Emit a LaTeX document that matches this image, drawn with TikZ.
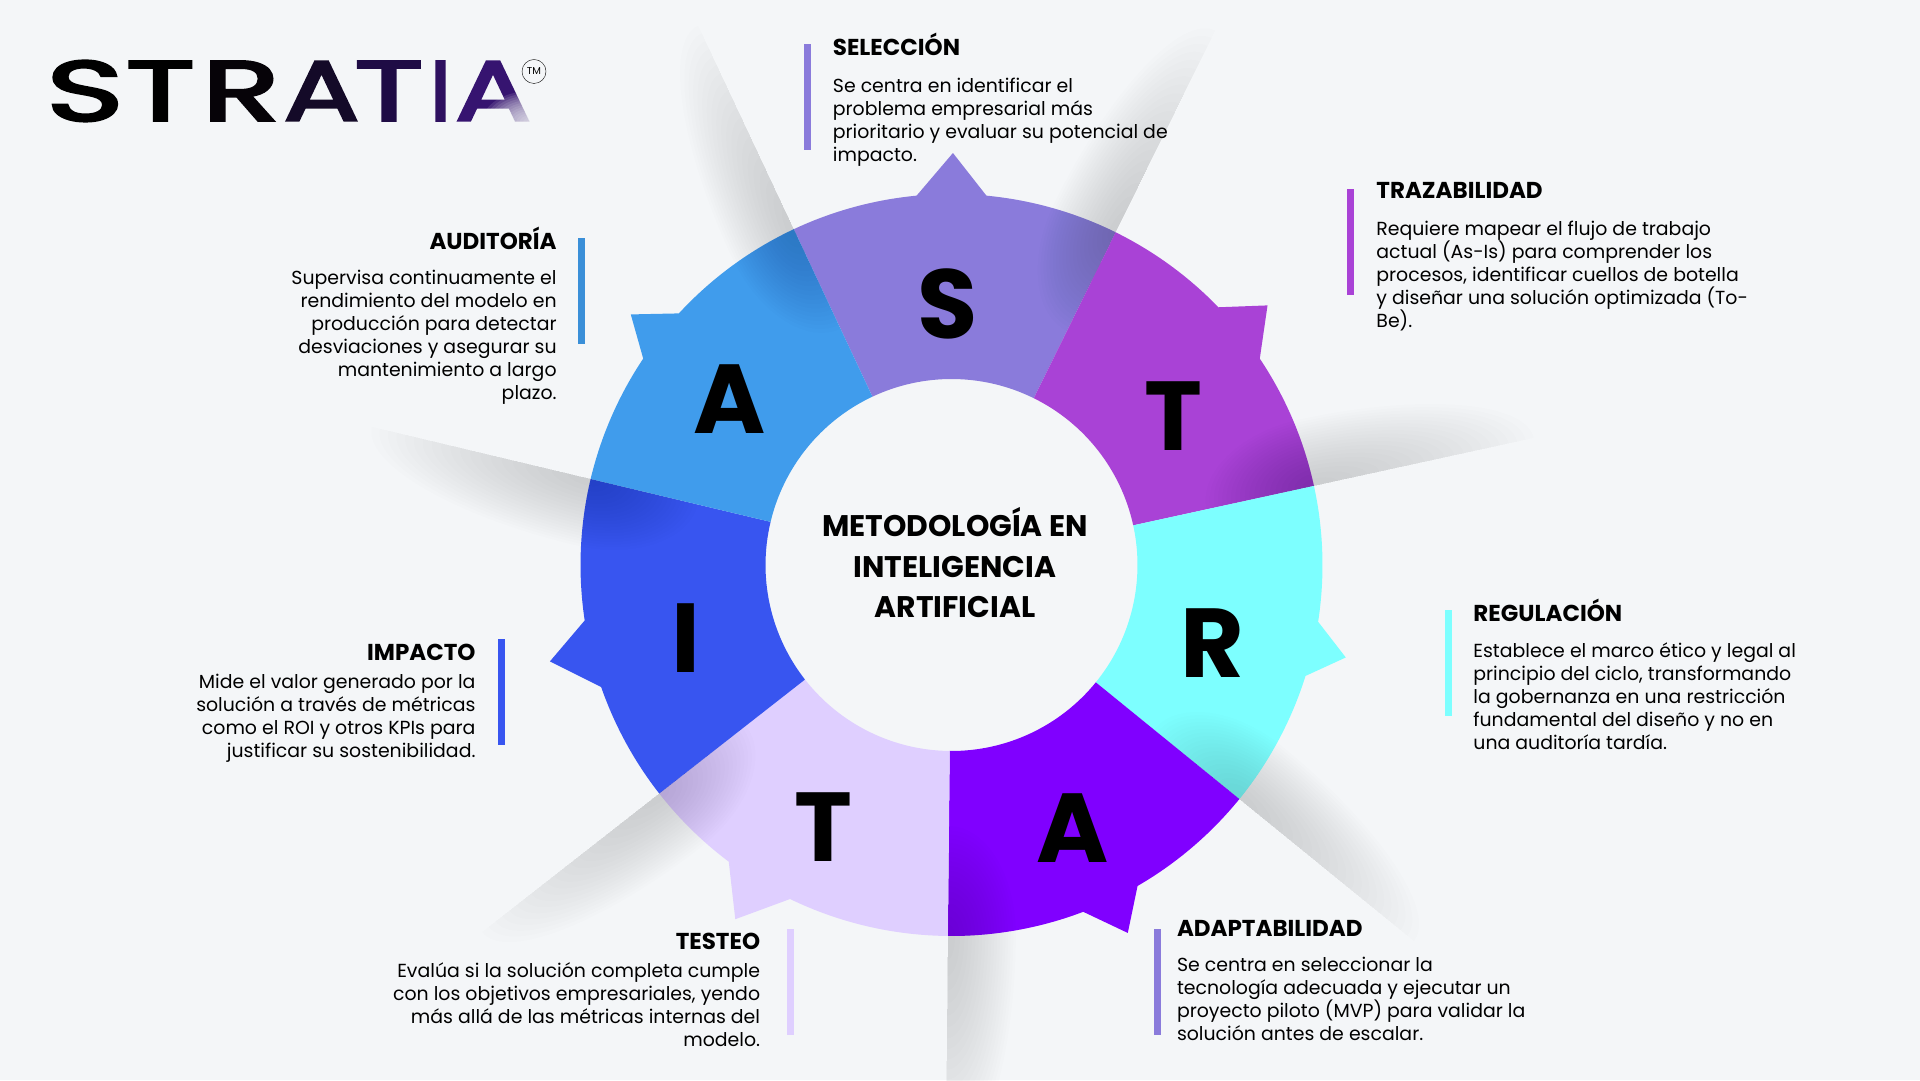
\documentclass[tikz,border=0pt]{standalone}
\usepackage{fontspec}
\setmainfont{Poppins}
\newfontfamily\logofont[FakeBold=3]{Poppins}
\usetikzlibrary{positioning}
\definecolor{pagebg}{HTML}{F4F6F8}
\definecolor{selcol}{HTML}{8A7BDB}
\definecolor{tracol}{HTML}{A942D6}
\definecolor{regcol}{HTML}{7DFFFF}
\definecolor{adacol}{HTML}{8000FF}
\definecolor{tescol}{HTML}{DFCFFF}
\definecolor{impcol}{HTML}{3855F0}
\definecolor{audcol}{HTML}{409CEC}
\definecolor{audbar}{HTML}{3A8FD8}
\definecolor{logoa}{HTML}{000000}
\definecolor{logob}{HTML}{060308}
\definecolor{logoc}{HTML}{140A28}
\definecolor{logod}{HTML}{1F0C45}
\definecolor{logoe}{HTML}{2E1060}
\definecolor{logof}{HTML}{361470}
\begin{document}
\begin{tikzpicture}[
    x=1pt, y=1pt,
    accent/.style={inner sep=0pt, minimum width=7pt, minimum height=106pt},
    head/.style={inner sep=0pt, font=\fontsize{23}{26}\selectfont\bfseries,
                 execute at begin node=\strut},
    body/.style={inner sep=0pt, font=\fontsize{18.9}{23}\selectfont,
                 execute at begin node=\strut},
    bigletter/.style={inner sep=0pt, font=\fontsize{98}{98}\selectfont\bfseries},
    logoletter/.style={inner sep=0pt, transform shape,
                       font=\fontsize{85}{85}\selectfont\logofont},
]
\clip (0,0) rectangle (1920,1080);
\fill[pagebg] (0,0) rectangle (1920,1080);
\coordinate (mid) at (951.5,515);

% ring: start, spike base, spike tip, spike base, end, tip radius
\begin{scope}[shift={(mid)}]
\foreach \col/\sa/\ba/\ta/\bb/\ea/\tr in {
    selcol/63.74/84.6/89.8/95.4/115.16/412,
    tracol/12.31/33.8/39.4/44/63.74/409,
    regcol/-39.12/-17.4/-13.2/-8.8/12.31/405,
    adacol/-90.55/-69.2/-64.4/-59.9/-39.12/408,
    tescol/218.02/233.1/238.6/244.2/269.45/415,
    impcol/166.59/188.6/193.5/199.2/218.02/413,
    audcol/115.16/137.3/142/146.2/166.59/407}
  \fill[\col] (\sa:186) -- (\sa:371) arc[start angle=\sa, end angle=\ba, radius=371]
    -- (\ta:\tr) -- (\bb:371) arc[start angle=\bb, end angle=\ea, radius=371]
    -- (\ea:186) arc[start angle=\ea, end angle=\sa, radius=186] -- cycle;

% fold shadows
\foreach \a in {63.74,12.31,-39.12,-90.55,218.02,166.59,115.16}{
  \begin{scope}[rotate=\a, shift={(371,0)}]
  \foreach \k in {1,...,20}
    \fill[black, fill opacity=.008] (0,0) -- ({(\k/20)^.75*225},0)
      arc[start angle=0, end angle=90, x radius={(\k/20)^.75*225}, y radius={(\k/20)^.75*68}]
      arc[start angle=90, end angle=180, x radius={(\k/20)^.75*110}, y radius={(\k/20)^.75*68}] -- cycle;
  \end{scope}
}
\end{scope}

\node[bigletter] (ls) at (948,776) {S};
\node[bigletter] (lt) at (1173,664) {T};
\node[bigletter] (lr) at (1212,437) {R};
\node[bigletter] (la) at (1073,252) {A};
\node[bigletter] (lte) at (823,253) {T};
\node[bigletter] (li) at (686,442) {I};
\node[bigletter] (lau) at (730,681) {A};

\node[align=center, inner sep=0pt, font=\fontsize{29.8}{40.5}\selectfont\bfseries] (title) at (955,517.4)
   {METODOLOGÍA EN\\ INTELIGENCIA\\ ARTIFICIAL};

% logo
\foreach \ltr/\cx/\sx/\col in {S/85/1.55/logoa, T/160.5/1.5/logoa, R/241/1.5/logob, A/321.5/1.32/logoc,
    T/389/1.5/logod, I/440.5/1/logoe, A/493/1.32/logof}
  \node[logoletter, xscale=\sx, text=\col] (logo\ltr\cx) at (\cx,989) {\ltr};
\foreach \k in {1,...,14}
  \fill[pagebg, fill opacity=.12] (530,958) ellipse[x radius={\k*3.4}, y radius={\k*2.2}];
\node[circle, draw=black, thin, inner sep=0pt, minimum size=24pt,
      font=\fontsize{10}{10}\selectfont] (tm) at (534,1008.5) {TM};

% seleccion
\node[accent, fill=selcol] (barsel) at (807,983) {};
\node[head, below right=-11.4pt and 22pt of barsel.north east] (headsel) {SELECCIÓN};
\node[body, align=left, below right=14.4pt and 0pt of headsel.south west] (textsel)
   {Se centra en identificar el\\ problema empresarial más\\ prioritario y evaluar su potencial de\\ impacto.};

% trazabilidad
\node[accent, fill=tracol] (bartra) at (1350.5,838) {};
\node[head, below right=-8.7pt and 22pt of bartra.north east] (headtra) {TRAZABILIDAD};
\node[body, align=left, below right=14.2pt and 0pt of headtra.south west] (texttra)
   {Requiere mapear el flujo de trabajo\\ actual (As-Is) para comprender los\\ procesos, identificar cuellos de botella\\ y diseñar una solución optimizada (To-\\ Be).};

% regulacion
\node[accent, fill=regcol] (barreg) at (1448.5,417) {};
\node[head, below right=-10.7pt and 21pt of barreg.north east] (headreg) {REGULACIÓN};
\node[body, align=left, below right=12.6pt and 0pt of headreg.south west] (textreg)
   {Establece el marco ético y legal al\\ principio del ciclo, transformando\\ la gobernanza en una restricción\\ fundamental del diseño y no en\\ una auditoría tardía.};

% adaptabilidad
\node[accent, fill=selcol] (barada) at (1157.5,98) {};
\node[head, below right=-10.6pt and 15.6pt of barada.north east] (headada) {ADAPTABILIDAD};
\node[body, align=left, below right=12.2pt and 0pt of headada.south west] (textada)
   {Se centra en seleccionar la\\ tecnología adecuada y ejecutar un\\ proyecto piloto (MVP) para validar la\\ solución antes de escalar.};

% testeo
\node[accent, fill=tescol] (bartes) at (790,98) {};
\node[head, below left=2.4pt and 26pt of bartes.north west] (headtes) {TESTEO};
\node[body, align=right, below left=5.2pt and 0pt of headtes.south east] (texttes)
   {Evalúa si la solución completa cumple\\ con los objetivos empresariales, yendo\\ más allá de las métricas internas del\\ modelo.};

% impacto
\node[accent, fill=impcol] (barimp) at (501,388) {};
\node[head, below left=3.4pt and 21.6pt of barimp.north west] (headimp) {IMPACTO};
\node[body, align=right, below left=5.6pt and 0pt of headimp.south east] (textimp)
   {Mide el valor generado por la\\ solución a través de métricas\\ como el ROI y otros KPIs para\\ justificar su sostenibilidad.};

% auditoria
\node[accent, fill=audbar] (baraud) at (581.5,788.5) {};
\node[head, below left=-11.7pt and 21pt of baraud.north west] (headaud) {AUDITORÍA};
\node[body, align=right, below left=13pt and 0pt of headaud.south east] (textaud)
   {Supervisa continuamente el\\ rendimiento del modelo en\\ producción para detectar\\ desviaciones y asegurar su\\ mantenimiento a largo\\ plazo.};
\end{tikzpicture}
\end{document}
